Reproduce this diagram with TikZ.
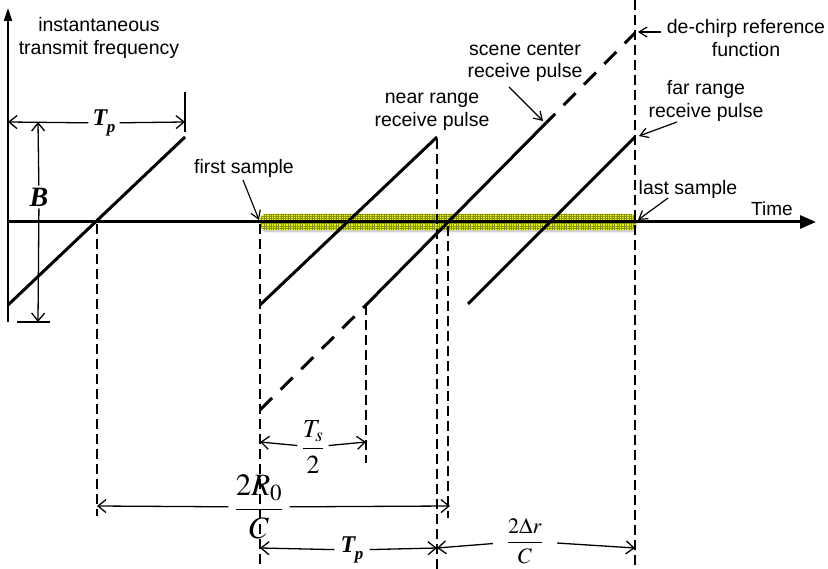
\documentclass[tikz,border=0pt]{standalone}
\usepackage{amsmath}
\usepackage{mathptmx}
\usepackage[no-math]{fontspec}
\setmainfont{Liberation Sans}
\newfontfamily\tms{Liberation Serif}
\usetikzlibrary{arrows.meta,patterns.meta,shadows}
\definecolor{bandY}{RGB}{232,246,40}
\definecolor{bandG}{RGB}{135,145,15}
\newcommand{\boldTp}{{\tms\bfseries\itshape T\kern-0.5pt\raisebox{-0.32em}{\fontsize{17}{17}\selectfont p}}}
\begin{document}
\begin{tikzpicture}[x=1pt,y=-1pt,
  lbl/.style={font=\fontsize{19.5}{22.5}\selectfont, align=center, inner sep=0pt},
  mth/.style={inner ysep=0pt},
  chirp/.style={line width=3pt},
  chirpdash/.style={line width=3pt, dash pattern=on 17pt off 12pt},
  dsh/.style={line width=1.7pt, dash pattern=on 10pt off 5pt},
  dimarr/.style={line width=1.3pt, -{Straight Barb[length=8pt,width=13pt]}},
  ptr/.style={line width=1.2pt, -{Straight Barb[length=8pt,width=10pt]}},
  tick/.style={line width=1.3pt}
]
\path[use as bounding box] (0,0) rectangle (828,569);

% sampling window band
\path[fill=bandY, rounded corners=6pt,
      drop shadow={shadow xshift=1pt,shadow yshift=-2.5pt,opacity=0.3,fill=black!60}]
  (260,214) rectangle (636,230);
\path[pattern={Hatch[angle=0,distance=2.4pt,line width=0.22pt]}, pattern color=bandG,
      rounded corners=6pt] (260,214) rectangle (636,230);

% coordinates
\coordinate (tx0) at (8,305);   \coordinate (tx1) at (185,137);
\coordinate (nr0) at (260,305); \coordinate (nr1) at (437,137);
\coordinate (sc0) at (260,410); \coordinate (sc1) at (366,305);
\coordinate (sc2) at (546,123); \coordinate (sc3) at (635,33);
\coordinate (fr0) at (468,304); \coordinate (fr1) at (635,137);
\coordinate (yax0) at (8,322);  \coordinate (yax1) at (8,8);
\coordinate (xax0) at (8,222);  \coordinate (xax1) at (816,222);

\coordinate (d1a) at (97,224);  \coordinate (d1b) at (97,516);
\coordinate (d2a) at (260,224); \coordinate (d2b) at (260,569);
\coordinate (d3a) at (366,305); \coordinate (d3b) at (366,463);
\coordinate (d4a) at (437,139); \coordinate (d4b) at (437,569);
\coordinate (d5a) at (448,226); \coordinate (d5b) at (448,518);
\coordinate (d6a) at (635,0);   \coordinate (d6b) at (635,569);

% dashed verticals
\draw[dsh] (d1a) -- (d1b);
\draw[dsh] (d2a) -- (d2b);
\draw[dsh] (d3a) -- (d3b);
\draw[dsh] (d4a) -- (d4b);
\draw[dsh] (d5a) -- (d5b);
\draw[dsh] (d6a) -- (d6b);

% chirps
\draw[chirp] (tx0) -- (tx1);
\draw[chirp] (nr0) -- (nr1);
\draw[chirpdash] (sc0) -- (sc1);
\draw[chirp] (sc1) -- (sc2);
\draw[chirpdash, dash phase=4pt] (sc2) -- (sc3);
\draw[chirp] (fr0) -- (fr1);

% axes
\draw[line width=2pt, -{Triangle[length=13pt,width=8pt]}] (yax0) -- (yax1);
\draw[line width=3pt, -{Triangle[length=16pt,width=13pt]}] (xax0) -- (xax1);

% text labels
\node[lbl] (ytitle) at (99,38) {instantaneous\\transmit frequency};
\node[lbl] (fs) at (244,168) {first sample};
\node[lbl] (nrl) at (432,112) {near range\\receive pulse};
\node[lbl] (scl) at (525,62) {scene center\\receive pulse};
\node[lbl] (dcl) at (746,38) {de-chirp reference\\function};
\node[lbl] (frl) at (706,101) {far range\\receive pulse};
\node[lbl] (lsl) at (688,189) {last sample};
\node[inner sep=0pt, font=\fontsize{19}{20}\selectfont] (time) at (772,209) {Time};

% pointer arrows
\coordinate (fsS) at (243,180);  \coordinate (fsE) at (259,220);
\coordinate (scS) at (509,87);   \coordinate (scE) at (543,121);
\coordinate (dcS) at (661,32);   \coordinate (dcE) at (638,32);
\coordinate (frS) at (677,122);  \coordinate (frE) at (639,136);
\coordinate (lsS) at (668,198);  \coordinate (lsE) at (638,220);
\draw[ptr] (fsS) -- (fsE);
\draw[ptr] (scS) -- (scE);
\draw[ptr] (dcS) -- (dcE);
\draw[ptr] (frS) -- (frE);
\draw[ptr] (lsS) -- (lsE);

% Tp (top)
\coordinate (tpL) at (8,122); \coordinate (tpR) at (185,122);
\node[inner xsep=4pt, inner ysep=0pt, font=\fontsize{24}{24}\selectfont] (tpTop) at (104,123) {\boldTp};
\draw[dimarr] (tpTop) -- (tpL);
\draw[dimarr] (tpTop) -- (tpR);
\coordinate (tk1) at (185,92); \coordinate (tk2) at (185,132);
\draw[tick] (tk1) -- (tk2);

% B
\coordinate (bTop) at (38,122); \coordinate (bBot) at (38,322);
\node[inner xsep=0pt, inner ysep=2pt, font=\fontsize{28}{28}\selectfont] (bl) at (39,197) {{\tms\bfseries\itshape B}};
\draw[dimarr] (bl) -- (bTop);
\draw[dimarr] (bl) -- (bBot);
\coordinate (bt1) at (17,322); \coordinate (bt2) at (50,322);
\draw[tick] (bt1) -- (bt2);

% Ts/2
\coordinate (ts1) at (260,442); \coordinate (ts2) at (366,442);
\node[mth, inner xsep=4pt, font=\fontsize{26}{28}\selectfont] (tsl) at (313,447) {$\dfrac{T_s}{2}$};
\draw[dimarr] (tsl) -- (ts1);
\draw[dimarr] (tsl) -- (ts2);

% 2R0/C
\coordinate (r1) at (97,506); \coordinate (r2) at (450,506);
\node[mth, inner xsep=6pt, font=\fontsize{31}{33}\selectfont] (rl) at (259,507) {$\dfrac{2R_0}{C}$};
\draw[dimarr] (rl) -- (r1);
\draw[dimarr] (rl) -- (r2);

% Tp (bottom)
\coordinate (tb1) at (260,548); \coordinate (tb2) at (437,548);
\node[inner xsep=6pt, inner ysep=0pt, font=\fontsize{24}{24}\selectfont] (tpBot) at (352,550) {\boldTp};
\draw[dimarr] (tpBot) -- (tb1);
\draw[dimarr] (tpBot) -- (tb2);

% 2 Delta r / C
\coordinate (dr1) at (437,548); \coordinate (dr2) at (635,548);
\node[mth, inner xsep=14pt, font=\fontsize{22}{24}\selectfont] (drl) at (525,541) {$\dfrac{2\Delta r}{C}$};
\draw[dimarr] (drl) -- (dr1);
\draw[dimarr] (drl) -- (dr2);
\end{tikzpicture}
\end{document}
